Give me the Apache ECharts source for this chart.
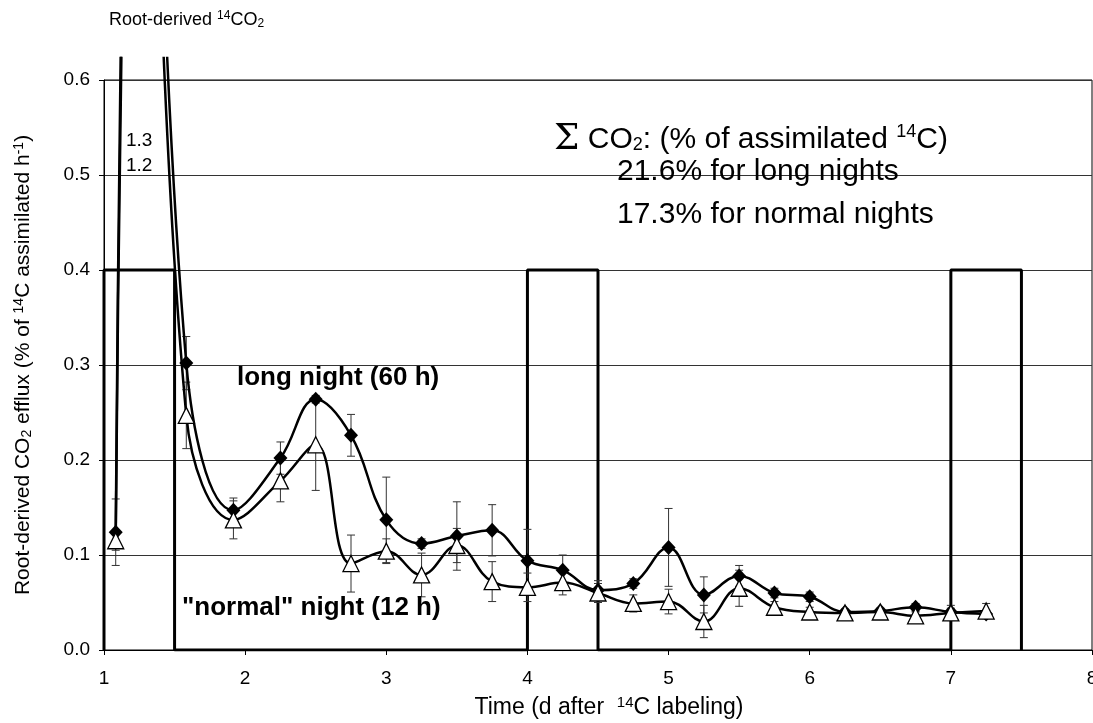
<!DOCTYPE html>
<html lang="en">
<head>
  <meta charset="UTF-8" />
  <title>Root-derived 14CO2</title>
  <script src="https://cdn.jsdelivr.net/npm/echarts@6/dist/echarts.min.js"></script>
  <style>
    html, body { margin: 0; height: 100%; background: #fff; }
    #chart { width: 1093px; height: 723px; }
  </style>
</head>
<body>
  <div id="chart"></div>
  <script>
    // sampling times (d after 14C labeling)
    const times = [1.083, 1.25, 1.583, 1.917, 2.25, 2.5, 2.75, 3.0, 3.25, 3.5, 3.75, 4.0, 4.25,
                   4.5, 4.75, 5.0, 5.25, 5.5, 5.75, 6.0, 6.25, 6.5, 6.75, 7.0, 7.25];
    // long night (60 h) - filled diamonds
    const longNight = [0.124, 1.3, 0.302, 0.147, 0.202, 0.264, 0.226, 0.137, 0.112, 0.12, 0.126, 0.094, 0.084,
                       0.063, 0.07, 0.108, 0.058, 0.078, 0.06, 0.056, 0.04, 0.041, 0.045, 0.04, 0.038];
    const longErr = [0.035, 0, 0.028, 0.013, 0.017, 0.004, 0.022, 0.045, 0.005, 0.036, 0.027, 0.033, 0.016,
                     0.01, 0.005, 0.041, 0.019, 0.011, 0.005, 0.005, 0.003, 0.003, 0.004, 0.004, 0.004];
    // "normal" night (12 h) - open triangles
    const normalNight = [0.115, 1.2, 0.247, 0.137, 0.178, 0.216, 0.091, 0.104, 0.079, 0.11, 0.072, 0.066, 0.071,
                         0.06, 0.049, 0.051, 0.03, 0.065, 0.045, 0.04, 0.039, 0.04, 0.036, 0.039, 0.041];
    const normalErr = [0.01, 0, 0.035, 0.02, 0.022, 0.048, 0.03, 0.013, 0.023, 0.018, 0.021, 0.015, 0.013,
                       0.01, 0.009, 0.013, 0.017, 0.019, 0.006, 0.005, 0.003, 0.003, 0.004, 0.008, 0.008];
    // light / dark periods drawn as a step outline
    const periodX = [1, 1, 1.5, 1.5, 4, 4, 4.5, 4.5, 7, 7, 7.5, 7.5];
    const periodY = [0, 0.4, 0.4, 0, 0, 0.4, 0.4, 0, 0, 0.4, 0.4, 0];

    const xTicks = [1, 2, 3, 4, 5, 6, 7, 8];
    const yTicks = [0, 0.1, 0.2, 0.3, 0.4, 0.5, 0.6];

    const font = "'Liberation Sans', Arial, sans-serif";

    function errBars(params, api) {
      const x = api.value(0), y = api.value(1), e = api.value(2);
      if (!e) return null;
      const a = api.coord([x, y + e]);
      const b = api.coord([x, y - e]);
      const st = { stroke: '#333', lineWidth: 1 };
      const w = 4;
      return {
        type: 'group',
        children: [
          { type: 'line', shape: { x1: a[0], y1: a[1], x2: b[0], y2: b[1] }, style: st },
          { type: 'line', shape: { x1: a[0] - w, y1: a[1], x2: a[0] + w, y2: a[1] }, style: st },
          { type: 'line', shape: { x1: b[0] - w, y1: b[1], x2: b[0] + w, y2: b[1] }, style: st }
        ]
      };
    }

    function plain(text, left, top, size, weight) {
      return { text: text, left: left, top: top, padding: 0,
        textStyle: { fontFamily: font, fontSize: size, fontWeight: weight || 'normal', color: '#000' } };
    }

    const chart = echarts.init(document.getElementById('chart'));

    chart.setOption({
      animation: false,
      backgroundColor: '#fff',
      textStyle: { fontFamily: font, color: '#000' },
      title: [
        {
          text: 'Root-derived {sup|14}CO{sub|2}',
          left: 109, top: 10, padding: 0,
          textStyle: { fontFamily: font, fontSize: 18, fontWeight: 'normal', color: '#000',
            rich: { sup: { fontSize: 12, padding: [0, 0, 8, 0] }, sub: { fontSize: 12, padding: [7, 0, 0, 0] } } }
        },
        {
          text: '{sig|\u03A3} CO{sub|2}: (% of assimilated {sup|14}C)',
          left: 554, top: 122, padding: 0,
          textStyle: { fontFamily: font, fontSize: 30, fontWeight: 'normal', color: '#000',
            rich: { sig: { fontFamily: "'DejaVu Serif', serif", fontSize: 36 },
                    sup: { fontSize: 18, padding: [0, 0, 15, 0] }, sub: { fontSize: 18, padding: [11, 0, 0, 0] } } }
        },
        plain('21.6% for long nights', 617, 157, 30),
        plain('17.3% for normal nights', 617, 200, 30),
        plain('long night (60 h)', 237, 365, 26, 'bold'),
        plain('"normal" night (12 h)', 182, 595, 26, 'bold'),
        plain('1.3', 126, 131, 19),
        plain('1.2', 126, 156, 19)
      ],
      grid: [
        { left: 104, right: 1, top: 58, bottom: 73, outerBoundsMode: 'none' },
        { left: 104, right: 1, top: 80, bottom: 73, outerBoundsMode: 'none',
          show: true, borderColor: '#000', borderWidth: 1 }
      ],
      xAxis: [
        { gridIndex: 0, type: 'value', min: 1, max: 8, show: false },
        {
          gridIndex: 1, type: 'value', min: xTicks[0], max: xTicks[xTicks.length - 1], interval: 1,
          axisLine: { show: true, lineStyle: { color: '#000', width: 1 } },
          axisTick: { show: true, length: 5, lineStyle: { color: '#000' } },
          axisLabel: { fontSize: 19, color: '#000', margin: 19 },
          splitLine: { show: false },
          name: 'Time (d after  {sup|14}C labeling)',
          nameLocation: 'middle', nameGap: 45,
          nameTextStyle: { fontSize: 23, color: '#000', padding: [0, 0, 0, 22],
            rich: { sup: { fontSize: 15, padding: [0, 0, 10, 0] } } }
        }
      ],
      yAxis: [
        { gridIndex: 0, type: 'value', min: 0, max: 0.6232, show: false },
        {
          gridIndex: 1, type: 'value', min: yTicks[0], max: yTicks[yTicks.length - 1], interval: 0.1,
          axisLine: { show: true, lineStyle: { color: '#000', width: 1 } },
          axisTick: { show: true, length: 5, lineStyle: { color: '#000' } },
          axisLabel: { fontSize: 19, color: '#000', margin: 14, formatter: v => v.toFixed(1) },
          splitLine: { show: true, lineStyle: { color: '#333', width: 1 } },
          name: 'Root-derived CO{sub|2} efflux (% of {sup|14}C assimilated h{sup|-1})',
          nameLocation: 'middle', nameGap: 69, nameRotate: 90,
          nameTextStyle: { fontSize: 21, color: '#000',
            rich: { sup: { fontSize: 14, padding: [0, 0, 9, 0] }, sub: { fontSize: 14, padding: [8, 0, 0, 0] } } }
        }
      ],
      series: [
        {
          name: 'periods', type: 'line', xAxisIndex: 0, yAxisIndex: 0,
          data: periodX.map((x, i) => [x, periodY[i]]),
          symbol: 'none', lineStyle: { color: '#000', width: 3 }, z: 1, silent: true
        },
        {
          name: 'long err', type: 'custom', xAxisIndex: 0, yAxisIndex: 0,
          data: times.map((t, i) => [t, longNight[i], longErr[i]]),
          renderItem: errBars, z: 2, silent: true
        },
        {
          name: 'normal err', type: 'custom', xAxisIndex: 0, yAxisIndex: 0,
          data: times.map((t, i) => [t, normalNight[i], normalErr[i]]),
          renderItem: errBars, z: 2, silent: true
        },
        {
          name: 'long night (60 h)', type: 'line', xAxisIndex: 0, yAxisIndex: 0,
          data: times.map((t, i) => [t, longNight[i]]),
          smooth: 0.4, symbol: 'diamond', symbolSize: [14, 15],
          itemStyle: { color: '#000' },
          lineStyle: { color: '#000', width: 2.5 }, z: 3
        },
        {
          name: '"normal" night (12 h)', type: 'line', xAxisIndex: 0, yAxisIndex: 0,
          data: times.map((t, i) => [t, normalNight[i]]),
          smooth: 0.4, symbol: 'triangle', symbolSize: 16,
          itemStyle: { color: '#fff', borderColor: '#000', borderWidth: 1.3 },
          lineStyle: { color: '#000', width: 2.5 }, z: 4
        }
      ]
    });
  </script>
</body>
</html>
